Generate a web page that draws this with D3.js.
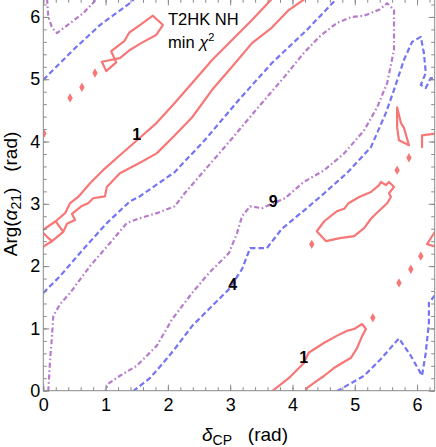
<!DOCTYPE html>
<html><head><meta charset="utf-8">
<script src="https://cdn.jsdelivr.net/npm/d3@7"></script>
<style>
html,body{margin:0;padding:0;background:#fff;}
text{font-family:"Liberation Sans",Arial,sans-serif;}
</style></head>
<body><svg id="c" width="436" height="447"></svg>
<script>
const TAU = 2 * Math.PI;
const majorTicks = [0, 1, 2, 3, 4, 5, 6];
const minorTicks = d3.range(0, 6.3, 0.2).map(v => +v.toFixed(1));

// Δχ² = 1 contours (δCP, Arg α21) in rad
const red1Upper = [[0,2.58],[0.08,2.64],[0.20,2.72],[0.35,2.85],[0.43,3.01],[0.56,3.11],[0.75,3.33],[0.96,3.54],[1.23,3.78],[1.55,4.06],[1.82,4.30],[2.11,4.62],[2.39,4.94],[2.71,5.31],[3.03,5.63],[3.35,5.95],[3.67,6.29]];
const red1Lower = [[0,2.31],[0.04,2.34],[0.14,2.40],[0.32,2.55],[0.38,2.68],[0.51,2.74],[0.46,2.84],[0.61,2.96],[0.72,3.01],[0.80,3.09],[0.99,3.12],[1.02,3.27],[1.23,3.49],[1.55,3.66],[1.82,3.81],[2.10,4.09],[2.39,4.39],[2.71,4.83],[3.03,5.20],[3.35,5.58],[3.67,5.83],[3.94,6.11],[4.20,6.29]];
const red1EdgeA = [[0,2.53],[0.06,2.47],[0.14,2.40]];
const red1EdgeB = [[0.20,2.72],[0.32,2.55]];
const red1LoopUL = [[0.94,5.28],[1.01,5.13],[1.17,5.27],[1.09,5.45],[1.30,5.61],[1.38,5.75],[1.55,5.87],[1.76,6.02],[1.92,5.87],[1.81,5.71],[1.57,5.58],[1.39,5.47],[1.23,5.34],[0.94,5.28]];
const red1LoopR = [[5.68,4.55],[5.74,4.30],[5.79,4.22],[5.87,3.94],[5.71,4.02],[5.68,4.23],[5.68,4.55]];
const red1EdgeR = [[6.30,4.13],[6.08,4.10],[6.08,3.91]];
const red1EdgeV = [[6.30,2.56],[6.24,2.48],[6.16,2.35],[6.27,2.32]];
const red1LoopMid = [[4.39,2.56],[4.51,2.72],[4.71,2.88],[4.83,2.92],[4.90,3.01],[5.07,3.11],[5.26,3.19],[5.39,3.30],[5.42,3.35],[5.50,3.30],[5.55,3.35],[5.63,3.27],[5.55,3.17],[5.58,3.11],[5.52,3.01],[5.34,2.84],[5.26,2.76],[5.15,2.61],[4.99,2.48],[4.76,2.45],[4.54,2.40],[4.39,2.56]];
const red1LowerRight = [[3.67,-0.01],[3.94,0.20],[4.18,0.44],[4.26,0.61],[4.51,0.77],[4.71,0.88],[4.87,0.96],[4.99,0.99],[5.12,1.07],[5.18,0.99],[5.12,0.88],[5.03,0.67],[4.94,0.53],[4.79,0.44],[4.66,0.36],[4.51,0.24],[4.38,0.15],[4.23,0.04],[4.22,-0.01]];
const red1Islands = [[0.83,5.10],[0.62,4.87],[0.43,4.70],[0.01,4.13],[5.87,3.74],[5.68,3.54],[4.31,2.35],[6.06,2.16],[5.90,1.95],[5.71,1.73],[5.29,1.17]];

// Δχ² = 4 contours
const blue4UL = [[0,4.99],[0.48,5.47],[0.91,5.87],[1.39,6.22],[1.46,6.29]];
const blue4Diag = [[0,1.57],[0.27,1.84],[0.64,2.27],[1.02,2.69],[1.39,3.04],[1.55,3.12],[2.11,3.51],[2.59,4.02],[3.14,4.67],[3.67,5.26],[4.23,5.79],[4.66,6.24],[4.69,6.29]];
const blue4Main = [[1.44,-0.01],[1.71,0.20],[1.92,0.44],[2.11,0.67],[2.39,1.04],[2.71,1.36],[2.98,1.63],[3.19,1.95],[3.32,2.29],[3.46,2.29],[3.59,2.29],[3.83,2.60],[4.23,2.93],[4.51,3.17],[4.87,3.49],[5.26,3.91],[5.50,4.46],[5.63,4.83],[5.79,5.31],[5.92,5.60],[6.06,5.68],[6.11,5.42],[6.14,5.10],[6.06,4.91],[6.14,4.86],[6.22,5.02],[6.30,5.02]];
const blue4LR = [[4.71,-0.01],[5.15,0.24],[5.42,0.51],[5.71,0.84],[5.90,0.56],[6.08,0.24],[6.14,0.61],[6.19,1.09],[6.19,1.41],[6.30,1.55]];

// Δχ² = 9 contours
const purple9UL = [[0.06,6.29],[0.08,6.00],[0.14,5.83],[0.22,5.74],[0.43,5.90],[0.64,6.06],[0.86,6.29]];
const purple9Main = [[0.08,-0.01],[0.11,0.51],[0.14,0.88],[0.16,1.20],[0.27,1.39],[0.43,1.57],[0.75,2.00],[1.07,2.37],[1.34,2.69],[1.55,2.77],[1.82,2.85],[2.11,2.96],[2.27,3.17],[2.59,3.54],[2.98,3.99],[3.40,4.49],[3.88,5.05],[4.18,5.42],[4.45,5.70],[4.71,5.90],[4.95,6.00],[5.15,6.02],[5.40,6.12],[5.52,6.22],[5.63,6.11],[5.63,5.47],[5.52,4.94],[5.36,4.55],[5.15,4.18],[4.83,3.81],[4.51,3.54],[4.18,3.35],[3.88,3.09],[3.51,2.93],[3.32,2.96],[3.19,2.80],[3.11,2.53],[2.98,2.21],[2.66,1.89],[2.39,1.57],[2.07,1.15],[1.82,0.72],[1.50,0.40],[1.23,0.24],[1.04,0.11],[0.99,-0.01]];

const contourLabels = [["1",1.50,4.12],["9",3.69,3.03],["4",3.04,1.70],["1",4.18,0.53]];

const svg = d3.select("#c");
const x = d3.scaleLinear().domain([0, TAU]).range([43.3, 434.7]);
const y = d3.scaleLinear().domain([0, TAU]).range([390.7, -0.7]);

const RED = "#f77777", BLUE = "#7474f4", PURPLE = "#b77bcc";

svg.append("defs").append("clipPath").attr("id","clip").append("rect")
  .attr("x", x(0)).attr("y", y(TAU)).attr("width", x(TAU)-x(0)).attr("height", y(0)-y(TAU));

const line = d3.line().x(d => x(d[0])).y(d => y(d[1]));
const g = svg.append("g").attr("clip-path","url(#clip)");

function draw(data, color, dash) {
  g.append("path").attr("d", line(data)).attr("fill","none")
    .attr("stroke", color).attr("stroke-width", 2.2)
    .attr("stroke-linejoin","round").attr("stroke-linecap", dash ? "butt" : "round")
    .attr("stroke-dasharray", dash || null);
}
const dPurple = "5,2.6,1.6,2.6", dBlue = "5.5,3";
[purple9UL, purple9Main].forEach(d => draw(d, PURPLE, dPurple));
[blue4UL, blue4Diag, blue4Main, blue4LR].forEach(d => draw(d, BLUE, dBlue));
[red1Upper, red1Lower, red1EdgeA, red1EdgeB, red1LoopUL, red1LoopR, red1EdgeR, red1EdgeV, red1LoopMid, red1LowerRight].forEach(d => draw(d, RED, null));
g.selectAll("path.isl").data(red1Islands).join("path").attr("class","isl")
  .attr("transform", d => `translate(${x(d[0])},${y(d[1])})`)
  .attr("d", d3.symbol(d3.symbolDiamond, 14))
  .attr("fill", RED).attr("stroke", RED).attr("stroke-width", 1.2);

// frame & ticks
const axColor = "#8a8a8a";
function styleAxis(sel, labels) {
  sel.select(".domain").remove();
  sel.selectAll("line").attr("stroke", axColor);
  if (!labels) sel.selectAll("text").remove();
  else sel.selectAll("text").attr("fill","#000").style("font-size","18px");
}
const H = y(0), W = x(TAU);
svg.append("rect").attr("x", x(0)).attr("y", y(TAU)).attr("width", x(TAU)-x(0)).attr("height", y(0)-y(TAU))
  .attr("fill","none").attr("stroke", axColor).attr("stroke-width",1);
svg.append("g").attr("transform",`translate(0,${H})`).call(d3.axisBottom(x).tickValues(minorTicks).tickSize(-3.5).tickFormat("")).call(s=>styleAxis(s,false));
svg.append("g").attr("transform",`translate(0,${H})`).call(d3.axisBottom(x).tickValues(majorTicks).tickSize(-6).tickPadding(8).tickFormat(d3.format("d"))).call(s=>styleAxis(s,true));
svg.append("g").attr("transform",`translate(0,${y(TAU)})`).call(d3.axisTop(x).tickValues(minorTicks).tickSize(-3.5).tickFormat("")).call(s=>styleAxis(s,false));
svg.append("g").attr("transform",`translate(0,${y(TAU)})`).call(d3.axisTop(x).tickValues(majorTicks).tickSize(-6).tickFormat("")).call(s=>styleAxis(s,false));
svg.append("g").attr("transform",`translate(${x(0)},0)`).call(d3.axisLeft(y).tickValues(minorTicks).tickSize(-3.5).tickFormat("")).call(s=>styleAxis(s,false));
svg.append("g").attr("transform",`translate(${x(0)},0)`).call(d3.axisLeft(y).tickValues(majorTicks).tickSize(-6).tickPadding(3).tickFormat(d3.format("d"))).call(s=>styleAxis(s,true));
svg.append("g").attr("transform",`translate(${W},0)`).call(d3.axisRight(y).tickValues(minorTicks).tickSize(-3.5).tickFormat("")).call(s=>styleAxis(s,false));
svg.append("g").attr("transform",`translate(${W},0)`).call(d3.axisRight(y).tickValues(majorTicks).tickSize(-6).tickFormat("")).call(s=>styleAxis(s,false));

// contour labels
svg.selectAll("text.cl").data(contourLabels).join("text").attr("class","cl")
  .attr("x", d => x(d[1])).attr("y", d => y(d[2]))
  .attr("text-anchor","middle").attr("dominant-baseline","central")
  .style("font-size","16px").style("font-weight","bold").text(d => d[0]);

// legend text
const t1 = svg.append("text").attr("x",168).attr("y",25).style("font-size","16.5px").text("T2HK NH");
const t2 = svg.append("text").attr("x",168).attr("y",48).style("font-size","16.5px");
t2.append("tspan").text("min ");
t2.append("tspan").style("font-style","italic").text("χ");
t2.append("tspan").attr("dy",-7).style("font-size","11px").text("2");

// axis titles
const xl = svg.append("text").attr("x",245).attr("y",441).attr("text-anchor","middle").style("font-size","19px");
xl.append("tspan").style("font-style","italic").text("δ");
xl.append("tspan").attr("dy",4).style("font-size","14px").text("CP");
xl.append("tspan").attr("dy",-4).text("\u00a0\u00a0\u00a0(rad)");

const yl = svg.append("text").attr("transform","translate(17,194) rotate(-90)").attr("text-anchor","middle").style("font-size","19px");
yl.append("tspan").text("Arg(");
yl.append("tspan").style("font-style","italic").text("α");
yl.append("tspan").attr("dy",4).style("font-size","14px").text("21");
yl.append("tspan").attr("dy",-4).text(")\u00a0\u00a0\u00a0(rad)");
</script></body></html>
